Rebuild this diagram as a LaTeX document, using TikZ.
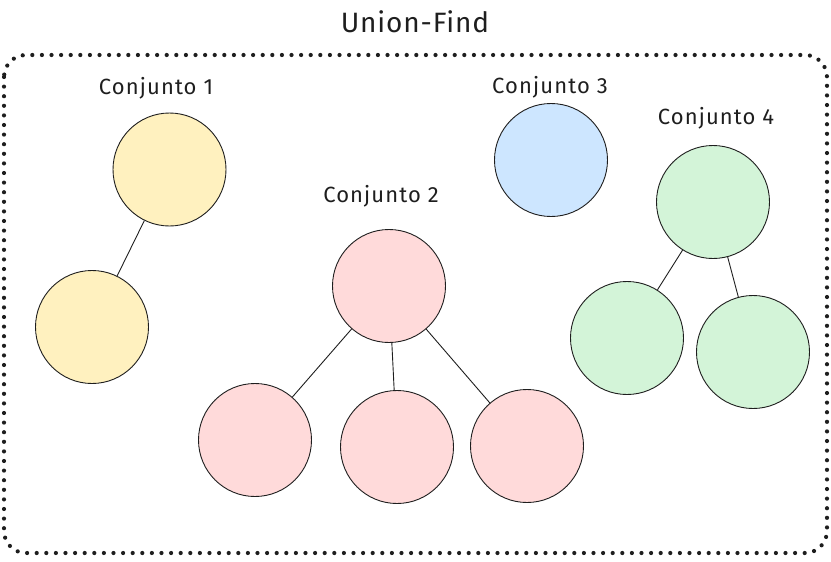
\documentclass[tikz,border=0pt]{standalone}
\usepackage{fontspec}
\setmainfont{Fira Sans}
\definecolor{ink}{HTML}{1E1E1E}
\definecolor{cyellow}{HTML}{FFF1BF}
\definecolor{cred}{HTML}{FFDADA}
\definecolor{cblue}{HTML}{CDE6FF}
\definecolor{cgreen}{HTML}{D3F4D8}
\begin{document}
\begin{tikzpicture}[x=1pt,y=-1pt,
  setnode/.style={circle, draw=ink, line width=0.9pt, minimum size=113pt, inner sep=0pt},
  link/.style={draw=ink, line width=0.9pt},
  lbl/.style={font=\fontsize{22}{26}\selectfont\addfontfeature{LetterSpace=5}, text=ink},
  ttl/.style={font=\fontsize{28}{32}\selectfont\addfontfeature{LetterSpace=3}, text=ink}]
\useasboundingbox (0,0) rectangle (831,562);
\draw[ink, line width=4.2pt, line cap=round, dash pattern=on 0pt off 9.6pt, rounded corners=22pt]
  (4,55) rectangle (827,553);
\node[ttl] (title) at (415,22) {Union-Find};
% Conjunto 1
\node[lbl] (l1) at (156,88) {Conjunto 1};
\node[setnode, fill=cyellow] (a1) at (169.5,169.5) {};
\node[setnode, fill=cyellow] (a2) at (92,327) {};
\draw[link] (a1) -- (a2);
% Conjunto 2
\node[lbl] (l2) at (381,196) {Conjunto 2};
\node[setnode, fill=cred] (b0) at (389,286) {};
\node[setnode, fill=cred] (b1) at (255,440) {};
\node[setnode, fill=cred] (b2) at (397,447) {};
\node[setnode, fill=cred] (b3) at (527,446) {};
\draw[link] (b0) -- (b1);
\draw[link] (b0) -- (b2);
\draw[link] (b0) -- (b3);
% Conjunto 3
\node[lbl] (l3) at (550,87) {Conjunto 3};
\node[setnode, fill=cblue] (c0) at (551,160) {};
% Conjunto 4
\node[lbl] (l4) at (716,118) {Conjunto 4};
\node[setnode, fill=cgreen] (d0) at (713,202) {};
\node[setnode, fill=cgreen] (d1) at (627,338) {};
\node[setnode, fill=cgreen] (d2) at (753,352) {};
\draw[link] (d0) -- (d1);
\draw[link] (d0) -- (d2);
\end{tikzpicture}
\end{document}
